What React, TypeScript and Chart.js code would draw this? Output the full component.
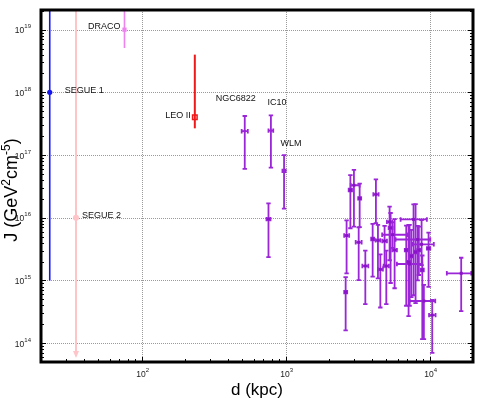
import React, { useEffect, useRef } from 'react';
import { Chart, registerables } from 'chart.js';

Chart.register(...registerables);

// ---------------- data ----------------
// Labelled dwarf galaxies: distance d (kpc) and J-factor (GeV^2 cm^-5)
const namedLabels = ['SEGUE 1', 'SEGUE 2', 'DRACO', 'LEO II', 'NGC6822', 'IC10', 'WLM'];
const namedD = [23, 35, 76, 234, 520, 790, 975];
const namedDLow = [23, 35, 76, 234, 495, 760, 950];
const namedDHigh = [23, 35, 76, 234, 546, 820, 1000];
const namedJ = [1e18, 1e16, 1e19, 4e17, 2.4e17, 2.45e17, 5.6e16];
const namedJLow = [1e15, 5.8e13, 5.1e18, 2.67e17, 6e16, 6.3e16, 1.4e16];
const namedJHigh = [1e21, 1e21, 1e21, 4e18, 4.2e17, 4.3e17, 1e17];

// Other (unlabelled) galaxies
const otherD = [760, 2610, 2650, 2815, 2980, 3265, 3215, 3575, 4235, 4020, 4375, 4545, 4865, 5000, 5270, 5355, 5530, 5710, 8250, 7730, 7255, 7140, 8790, 9830, 8890, 10420, 9120, 16560, 7985, 7455, 6880, 8415];
const otherDLow = [736, 2550, 2550, 2740, 2830, 3190, 3065, 3410, 4065, 3925, 4215, 4375, 4690, 4790, 5050, 5190, 4680, 5505, 5800, 6285, 5925, 6970, 7650, 9565, 8675, 9905, 7255, 13160, 7795, 7280, 6720, 8215];
const otherDHigh = [785, 2675, 2760, 2890, 3265, 3345, 3370, 3750, 4420, 4115, 4545, 4735, 5050, 5215, 5505, 5530, 7025, 5925, 10100, 9565, 8885, 7315, 10690, 10100, 9105, 10990, 10935, 19430, 8180, 7635, 7050, 8620];
const otherJ = [9.5e15, 6.5e14, 5.2e15, 2.77e16, 3.3e16, 2.04e16, 4.06e15, 1.7e15, 2.36e16, 4.57e15, 4.36e15, 1.5e15, 4.25e15, 1.7e15, 8.6e15, 6.9e15, 5.36e15, 3.05e15, 4.5e15, 9.4e15, 1.83e15, 1.96e15, 3.77e15, 3.25e15, 1.47e15, 2.8e14, 4.7e14, 1.3e15, 2.84e15, 2.45e15, 3.05e15, 3.05e15];
const otherJLow = [2.36e15, 1.6e14, 1.3e15, 6.8e15, 7.2e15, 7.1e15, 1.01e15, 4.2e14, 8.2e15, 1.15e15, 1.08e15, 3.7e14, 1.66e15, 4.2e14, 2.1e15, 9.1e14, 3.3e15, 7.5e14, 1.0e15, 5.8e14, 3.95e14, 2.7e14, 1.76e15, 7.9e14, 1.16e14, 7.0e13, 1.16e14, 3.25e14, 4.36e14, 5.4e14, 3.95e14, 1.22e15];
const otherJHigh = [1.7e16, 1.13e15, 9.1e15, 4.8e16, 5.8e16, 3.5e16, 7.0e15, 2.98e15, 4.1e16, 8.0e15, 7.7e15, 2.6e15, 7.4e15, 2.98e15, 1.5e16, 1.19e16, 8.5e15, 9.5e15, 7.4e15, 1.64e16, 7.7e15, 7.7e15, 9.2e15, 5.8e15, 2.5e15, 4.9e14, 8.5e14, 2.3e15, 1.65e16, 6.4e15, 7.5e15, 7.2e15];

// Axis ranges and tick exponents
const xMin = 20;
const xMax = 20000;
const yMin = 5e13;
const yMax = 2.06e19;
const xTickExponents = [2, 3, 4];
const yTickExponents = [14, 15, 16, 17, 18, 19];

// ---------------- styles ----------------
const FONT = '"Liberation Sans", Arial, Helvetica, sans-serif';
const PURPLE = '#9a26d8';
const namedStyles = [
  { color: '#1414f0', point: 'circle', radius: 2.6, fill: true, width: 1.6, cap: 0, arrow: false },
  { color: '#ffc4c8', point: 'circle', radius: 3, fill: true, width: 2, cap: 0, arrow: true },
  { color: '#ee82ee', point: 'rect', radius: 3, fill: true, width: 1.6, cap: 0, arrow: false },
  { color: '#f01818', point: 'rect', radius: 3.2, fill: false, width: 2, cap: 0, arrow: false },
  { color: PURPLE, point: 'rect', radius: 1.6, fill: true, width: 1.8, cap: 2.2, arrow: false },
  { color: PURPLE, point: 'rect', radius: 1.6, fill: true, width: 1.8, cap: 2.2, arrow: false },
  { color: PURPLE, point: 'rect', radius: 1.6, fill: true, width: 1.8, cap: 2.2, arrow: false },
];
// label placement relative to the marker (pixels)
const labelPlacement = [
  { dx: 15, dy: -2, align: 'left' },
  { dx: 6, dy: -2, align: 'left' },
  { dx: -4, dy: -3, align: 'right' },
  { dx: -4, dy: -2, align: 'right' },
  { dx: -9, dy: -33, align: 'center' },
  { dx: 6, dy: -28, align: 'center' },
  { dx: 7, dy: -27, align: 'center' },
];

const errorBarPlugin = {
  id: 'errorBars',
  beforeDatasetsDraw(chart: any) {
    const { ctx, chartArea, scales } = chart;
    const xs = scales.x;
    const ys = scales.y;
    ctx.save();
    ctx.beginPath();
    ctx.rect(chartArea.left, chartArea.top, chartArea.right - chartArea.left, chartArea.bottom - chartArea.top);
    ctx.clip();
    chart.data.datasets.forEach((ds: any) => {
      const e = ds.errorBars;
      if (!e) return;
      ctx.strokeStyle = e.color;
      ctx.fillStyle = e.color;
      ctx.lineWidth = e.width;
      ctx.lineCap = 'butt';
      ds.data.forEach((p: any, i: number) => {
        const px = xs.getPixelForValue(p.x);
        const py = ys.getPixelForValue(p.y);
        const yl = ys.getPixelForValue(e.yLow[i]);
        const yh = ys.getPixelForValue(e.yHigh[i]);
        const xl = xs.getPixelForValue(e.xLow[i]);
        const xh = xs.getPixelForValue(e.xHigh[i]);
        ctx.beginPath();
        ctx.moveTo(px, yh);
        ctx.lineTo(px, e.arrow ? yl - 5 : yl);
        if (e.cap) {
          ctx.moveTo(px - e.cap, yh);
          ctx.lineTo(px + e.cap, yh);
          ctx.moveTo(px - e.cap, yl);
          ctx.lineTo(px + e.cap, yl);
        }
        if (xh - xl > 0.8) {
          ctx.moveTo(xl, py);
          ctx.lineTo(xh, py);
          if (e.cap) {
            ctx.moveTo(xl, py - e.cap);
            ctx.lineTo(xl, py + e.cap);
            ctx.moveTo(xh, py - e.cap);
            ctx.lineTo(xh, py + e.cap);
          }
        }
        ctx.stroke();
        if (e.arrow) {
          ctx.beginPath();
          ctx.moveTo(px, yl);
          ctx.lineTo(px - 3, yl - 7);
          ctx.lineTo(px + 3, yl - 7);
          ctx.closePath();
          ctx.fill();
        }
      });
    });
    ctx.restore();
  },
};

function drawPower(ctx: CanvasRenderingContext2D, exp: number, x: number, y: number, align: 'right' | 'center') {
  const baseFont = `8.5px ${FONT}`;
  const supFont = `6px ${FONT}`;
  ctx.font = baseFont;
  const wb = ctx.measureText('10').width;
  ctx.font = supFont;
  const ws = ctx.measureText(String(exp)).width;
  const total = wb + ws;
  const x0 = align === 'right' ? x - total : x - total / 2;
  ctx.textAlign = 'left';
  ctx.textBaseline = 'alphabetic';
  ctx.font = baseFont;
  ctx.fillText('10', x0, y);
  ctx.font = supFont;
  ctx.fillText(String(exp), x0 + wb, y - 5);
}

const framePlugin = {
  id: 'frame',
  beforeDatasetsDraw(chart: any) {
    const { ctx, chartArea, scales } = chart;
    const xs = scales.x;
    const ys = scales.y;
    ctx.save();
    ctx.strokeStyle = '#9a9a9a';
    ctx.lineWidth = 1;
    ctx.setLineDash([1, 1]);
    xTickExponents.forEach((n) => {
      const px = Math.round(xs.getPixelForValue(Math.pow(10, n))) + 0.5;
      ctx.beginPath();
      ctx.moveTo(px, chartArea.top);
      ctx.lineTo(px, chartArea.bottom);
      ctx.stroke();
    });
    yTickExponents.forEach((n) => {
      const py = Math.round(ys.getPixelForValue(Math.pow(10, n))) + 0.5;
      ctx.beginPath();
      ctx.moveTo(chartArea.left, py);
      ctx.lineTo(chartArea.right, py);
      ctx.stroke();
    });
    ctx.restore();
  },
  afterDatasetsDraw(chart: any) {
    const { ctx, chartArea, scales } = chart;
    const xs = scales.x;
    const ys = scales.y;
    const { left, right, top, bottom } = chartArea;
    ctx.save();
    // minor / major ticks
    ctx.strokeStyle = '#000';
    ctx.lineWidth = 1;
    for (let n = 1; n <= 4; n++) {
      for (let k = 1; k <= 9; k++) {
        const v = k * Math.pow(10, n);
        if (v <= xMin || v >= xMax) continue;
        const px = Math.round(xs.getPixelForValue(v)) + 0.5;
        const len = k === 1 ? 5 : 3;
        ctx.beginPath();
        ctx.moveTo(px, bottom);
        ctx.lineTo(px, bottom - len);
        ctx.stroke();
      }
    }
    for (let n = 13; n <= 19; n++) {
      for (let k = 1; k <= 9; k++) {
        const v = k * Math.pow(10, n);
        if (v <= yMin || v >= yMax) continue;
        const py = Math.round(ys.getPixelForValue(v)) + 0.5;
        const len = k === 1 ? 5 : 3;
        ctx.beginPath();
        ctx.moveTo(left, py);
        ctx.lineTo(left + len, py);
        ctx.moveTo(right, py);
        ctx.lineTo(right - len, py);
        ctx.stroke();
      }
    }
    // frame
    ctx.lineWidth = 3;
    ctx.strokeRect(left, top, right - left, bottom - top);
    // tick labels
    ctx.fillStyle = '#222';
    yTickExponents.forEach((n) => {
      const py = ys.getPixelForValue(Math.pow(10, n));
      drawPower(ctx, n, 31, py + 3.6, 'right');
    });
    xTickExponents.forEach((n) => {
      const px = xs.getPixelForValue(Math.pow(10, n));
      drawPower(ctx, n, px + 1, bottom + 15, 'center');
    });
    // axis titles
    ctx.fillStyle = '#000';
    ctx.font = `17px ${FONT}`;
    ctx.textAlign = 'center';
    ctx.textBaseline = 'alphabetic';
    ctx.fillText('d (kpc)', (left + right) / 2, 395);

    const parts: [string, boolean][] = [
      ['J (GeV', false],
      ['2', true],
      ['cm', false],
      ['-5', true],
      [')', false],
    ];
    const big = `18px ${FONT}`;
    const small = `12px ${FONT}`;
    let total = 0;
    parts.forEach(([t, sup]) => {
      ctx.font = sup ? small : big;
      total += ctx.measureText(t).width;
    });
    ctx.save();
    ctx.translate(17, 190);
    ctx.rotate(-Math.PI / 2);
    let cx = -total / 2;
    ctx.textAlign = 'left';
    parts.forEach(([t, sup]) => {
      ctx.font = sup ? small : big;
      ctx.fillText(t, cx, sup ? -7 : 0);
      cx += ctx.measureText(t).width;
    });
    ctx.restore();

    // galaxy labels
    ctx.fillStyle = '#111';
    ctx.font = `9px ${FONT}`;
    ctx.textBaseline = 'middle';
    namedLabels.forEach((lab, i) => {
      const px = xs.getPixelForValue(namedD[i]);
      const py = ys.getPixelForValue(namedJ[i]);
      const pl = labelPlacement[i];
      ctx.textAlign = pl.align as CanvasTextAlign;
      ctx.fillText(lab, px + pl.dx, py + pl.dy);
    });
    ctx.restore();
  },
};

export default function App() {
  const ref = useRef<HTMLCanvasElement | null>(null);
  useEffect(() => {
    if (!ref.current) return;
    const datasets: any[] = [];
    // unlabelled galaxies
    datasets.push({
      label: 'others',
      data: otherD.map((d, i) => ({ x: d, y: otherJ[i] })),
      pointStyle: 'rect',
      pointRadius: 2.1,
      backgroundColor: '#8a12c8',
      borderColor: '#8a12c8',
      borderWidth: 0,
      showLine: false,
      errorBars: { xLow: otherDLow, xHigh: otherDHigh, yLow: otherJLow, yHigh: otherJHigh, color: PURPLE, width: 1.8, cap: 2.2, arrow: false },
    });
    namedLabels.forEach((lab, i) => {
      const st = namedStyles[i];
      datasets.push({
        label: lab,
        data: [{ x: namedD[i], y: namedJ[i] }],
        pointStyle: st.point,
        pointRadius: st.radius,
        backgroundColor: st.fill ? st.color : 'rgba(0,0,0,0)',
        borderColor: st.color,
        borderWidth: st.fill ? 0 : 1.5,
        showLine: false,
        errorBars: {
          xLow: [namedDLow[i]], xHigh: [namedDHigh[i]], yLow: [namedJLow[i]], yHigh: [namedJHigh[i]],
          color: st.color, width: st.width, cap: st.cap, arrow: st.arrow,
        },
      });
    });
    const chart = new Chart(ref.current, {
      type: 'scatter',
      data: { datasets },
      options: {
        responsive: false,
        animation: false,
        devicePixelRatio: 1,
        layout: { padding: { left: 41, right: 18, top: 10, bottom: 36 } },
        scales: {
          x: { type: 'logarithmic', min: xMin, max: xMax, display: false },
          y: { type: 'logarithmic', min: yMin, max: yMax, display: false },
        },
        plugins: {
          legend: { display: false },
          tooltip: { enabled: false },
        },
      } as any,
      plugins: [framePlugin, errorBarPlugin],
    });
    return () => chart.destroy();
  }, []);
  return (
    <div style={{ position: 'fixed', left: 0, top: 0, width: 491, height: 398, background: '#fff' }}>
      <canvas ref={ref} width={491} height={398} style={{ width: 491, height: 398, display: 'block' }} />
    </div>
  );
}
